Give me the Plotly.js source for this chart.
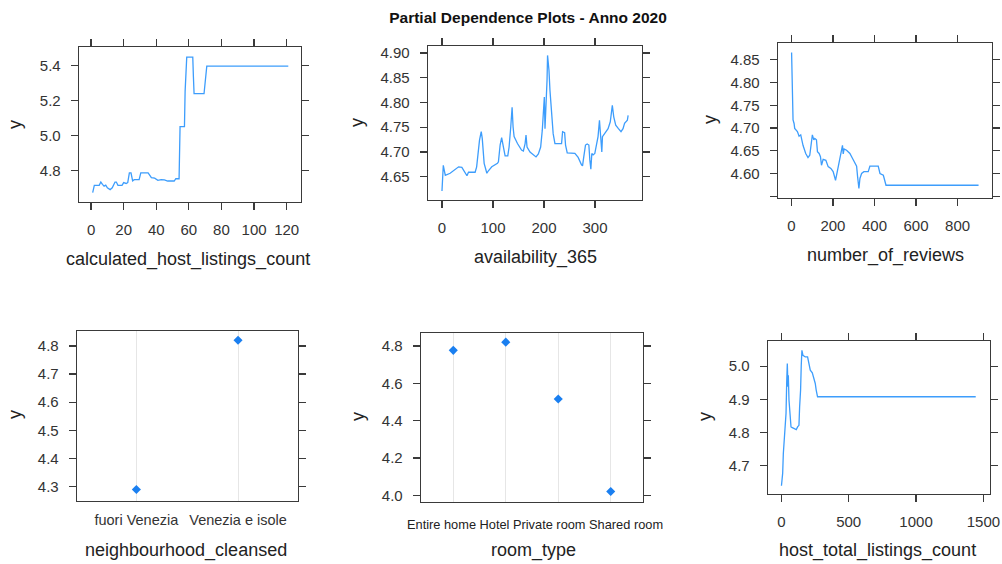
<!DOCTYPE html>
<html>
<head>
<meta charset="utf-8">
<script src="https://cdn.plot.ly/plotly-3.0.1.min.js"></script>
<style>
  html, body { margin: 0; padding: 0; background: #fff; }
  #chart { width: 1002px; height: 564px; }
</style>
</head>
<body>
<div id="chart"></div>
<script>
// Partial dependence of the predicted rating (y) on six listing features.

// calculated_host_listings_count
const calcHostX = [1, 2, 5, 6, 7, 8, 9, 10, 11.7, 13, 14.7, 15.5, 16.5, 19, 20, 21.5, 22.5, 23.5, 24.5, 25.5, 26.5, 29.5, 30.5, 35, 37, 39, 41, 43, 45, 47, 51, 52, 54, 54.2, 54.6, 57.3, 57.7, 58.7, 62.4, 62.8, 63.2, 69.3, 70, 71, 121];
const calcHostY = [4.672, 4.714, 4.714, 4.733, 4.72, 4.71, 4.715, 4.70, 4.69, 4.70, 4.733, 4.733, 4.714, 4.714, 4.73, 4.725, 4.73, 4.785, 4.785, 4.74, 4.747, 4.747, 4.785, 4.785, 4.758, 4.755, 4.743, 4.747, 4.745, 4.739, 4.739, 4.752, 4.752, 4.90, 5.05, 5.05, 5.25, 5.447, 5.447, 5.333, 5.238, 5.238, 5.318, 5.396, 5.396];

// availability_365
const availX = [0, 1, 2.6, 4.5, 6.5, 16, 32.6, 39, 45.6, 49, 52, 65, 68, 73.6, 77, 79, 82.7, 88, 91, 97.7, 108.8, 110.7, 114, 117, 120.5, 123.8, 129, 131.6, 134.9, 137.5, 139.4, 141.4, 148, 156, 159.6, 163, 164.8, 166.8, 172.6, 184.4, 189, 193.5, 196.7, 198.7, 199.7, 200.7, 202, 204, 206, 207, 208.5, 209.8, 211.7, 215, 218, 221.5, 234.5, 236.5, 240.5, 242.3, 245.6, 260.6, 267, 273.6, 275.6, 278, 281.4, 284.7, 288, 289.9, 291.9, 293.8, 296.4, 299.7, 303, 306, 308.8, 310.7, 313.4, 314.7, 319, 325.7, 330, 334, 336.8, 340.7, 346, 351, 355, 358, 363.5, 365];
const availY = [4.621, 4.647, 4.673, 4.663, 4.653, 4.657, 4.670, 4.669, 4.657, 4.652, 4.659, 4.659, 4.670, 4.724, 4.741, 4.727, 4.677, 4.657, 4.662, 4.670, 4.677, 4.680, 4.714, 4.729, 4.71, 4.692, 4.692, 4.710, 4.751, 4.790, 4.751, 4.731, 4.717, 4.704, 4.702, 4.717, 4.734, 4.710, 4.700, 4.690, 4.696, 4.71, 4.744, 4.788, 4.778, 4.811, 4.747, 4.784, 4.845, 4.895, 4.882, 4.865, 4.825, 4.774, 4.737, 4.717, 4.717, 4.741, 4.739, 4.714, 4.698, 4.697, 4.689, 4.674, 4.672, 4.69, 4.714, 4.716, 4.714, 4.684, 4.665, 4.697, 4.694, 4.697, 4.714, 4.731, 4.764, 4.744, 4.700, 4.731, 4.737, 4.747, 4.761, 4.794, 4.771, 4.754, 4.747, 4.741, 4.747, 4.758, 4.764, 4.774];

// number_of_reviews
const reviewsX = [1, 3, 5, 8, 13, 16, 29, 37, 45, 50, 56, 69, 80, 88.5, 96.6, 101, 108, 112.7, 120.7, 125.5, 133.6, 140, 145, 153, 166, 177, 190, 201, 212.5, 222, 233, 246, 249.5, 254, 265.6, 281.7, 294.5, 306, 314, 318.7, 325, 330, 338, 349, 370, 378, 418, 426.5, 442.6, 455.5, 901];
const reviewsY = [4.866, 4.799, 4.795, 4.718, 4.71, 4.699, 4.692, 4.682, 4.685, 4.674, 4.662, 4.644, 4.635, 4.640, 4.666, 4.685, 4.674, 4.677, 4.674, 4.648, 4.644, 4.637, 4.618, 4.631, 4.629, 4.615, 4.611, 4.604, 4.585, 4.607, 4.633, 4.662, 4.643, 4.654, 4.651, 4.644, 4.633, 4.622, 4.616, 4.593, 4.567, 4.589, 4.600, 4.604, 4.604, 4.616, 4.616, 4.600, 4.596, 4.574, 4.574];

// neighbourhood_cleansed
const neighbourhoods = ['fuori Venezia', 'Venezia e isole'];
const neighbourhoodY = [4.29, 4.82];

// room_type
const roomTypes = ['Entire home', 'Hotel', 'Private room', 'Shared room'];
const roomTypeY = [4.777, 4.821, 4.516, 4.020];

// host_total_listings_count
const hostTotalX = [1, 10, 15, 22, 30, 35, 40, 44.5, 49.4, 52, 57, 64, 72, 81.5, 104, 111, 121, 131, 136, 143, 148, 153, 160.6, 178, 195, 203, 215, 230, 240, 252, 259, 269, 1443];
const hostTotalY = [4.640, 4.677, 4.737, 4.777, 4.807, 4.858, 4.952, 5.008, 4.938, 4.973, 4.898, 4.847, 4.817, 4.815, 4.812, 4.809, 4.817, 4.822, 4.878, 4.928, 5.003, 5.048, 5.033, 5.028, 5.028, 5.013, 4.988, 4.980, 4.968, 4.948, 4.928, 4.908, 4.908];

// Tick values for each panel
const calcHostTicksX = [0, 20, 40, 60, 80, 100, 120];
const calcHostTicksY = [4.8, 5.0, 5.2, 5.4];
const availTicksX = [0, 100, 200, 300];
const availTicksY = [4.65, 4.70, 4.75, 4.80, 4.85, 4.90];
const reviewsTicksX = [0, 200, 400, 600, 800];
const reviewsTicksY = [4.55, 4.60, 4.65, 4.70, 4.75, 4.80, 4.85];
const neighbourhoodTicksY = [4.3, 4.4, 4.5, 4.6, 4.7, 4.8];
const roomTypeTicksY = [4.0, 4.2, 4.4, 4.6, 4.8];
const hostTotalTicksX = [0, 500, 1000, 1500];
const hostTotalTicksY = [4.7, 4.8, 4.9, 5.0];

const W = 1002, H = 564;
const LINE = '#3d9dfc';
const POINT = '#1a7ff0';
const AXIS = '#3a3a3a';
const TICKFONT = { family: 'Liberation Sans, Arial, sans-serif', size: 15, color: '#333' };
const TITLEFONT = { family: 'Liberation Sans, Arial, sans-serif', size: 18, color: '#222' };

// pixel box -> paper domain
const dx = (a, b) => [a / W, b / W];
const dy = (top, bottom) => [1 - bottom / H, 1 - top / H];

function fmt(v, d) { return v.toFixed(d); }

function numAxis(domain, range, ticks, anchor, decimals, hideLabels) {
  return {
    domain, range, anchor,
    tickmode: 'array', tickvals: ticks,
    ticktext: ticks.map(v => (hideLabels && hideLabels.includes(v)) ? '' : (decimals == null ? String(v) : fmt(v, decimals))),
    ticks: 'outside', ticklen: 7, tickwidth: 1.2, tickcolor: AXIS,
    showline: true, linecolor: AXIS, linewidth: 1.3, mirror: 'allticks',
    showgrid: false, zeroline: false, fixedrange: true,
    tickfont: TICKFONT, ticklabelstandoff: 7
  };
}

function catAxis(domain, range, anchor, showLabels) {
  return {
    domain, range, anchor, type: 'category',
    ticks: '', showticklabels: showLabels,
    showline: true, linecolor: AXIS, linewidth: 1.3, mirror: true,
    showgrid: true, gridcolor: '#e6e6e6', gridwidth: 1,
    zeroline: false, fixedrange: true,
    tickfont: { family: 'Liberation Sans, Arial, sans-serif', size: 14.5, color: '#333' },
    ticklabelstandoff: 5
  };
}

const lineStyle = { color: LINE, width: 1.3 };
const markerStyle = { color: POINT, size: 7, symbol: 'diamond' };

const data = [
  { x: calcHostX, y: calcHostY, xaxis: 'x', yaxis: 'y', mode: 'lines', line: lineStyle, hoverinfo: 'x+y' },
  { x: availX, y: availY, xaxis: 'x2', yaxis: 'y2', mode: 'lines', line: lineStyle, hoverinfo: 'x+y' },
  { x: reviewsX, y: reviewsY, xaxis: 'x3', yaxis: 'y3', mode: 'lines', line: lineStyle, hoverinfo: 'x+y' },
  { x: neighbourhoods, y: neighbourhoodY, xaxis: 'x4', yaxis: 'y4', mode: 'markers', marker: markerStyle, hoverinfo: 'x+y' },
  { x: roomTypes, y: roomTypeY, xaxis: 'x5', yaxis: 'y5', mode: 'markers', marker: markerStyle, hoverinfo: 'x+y' },
  { x: hostTotalX, y: hostTotalY, xaxis: 'x6', yaxis: 'y6', mode: 'lines', line: lineStyle, hoverinfo: 'x+y' }
];

function axisTitle(text, px, py, rotate) {
  return {
    text, xref: 'paper', yref: 'paper', x: px / W, y: 1 - py / H,
    xanchor: 'center', yanchor: 'middle', showarrow: false,
    textangle: rotate ? -90 : 0, font: TITLEFONT
  };
}

const layout = {
  width: W, height: H,
  margin: { l: 0, r: 0, t: 0, b: 0 },
  paper_bgcolor: '#fff', plot_bgcolor: '#fff',
  showlegend: false,
  title: {
    text: '<b>Partial Dependence Plots - Anno 2020</b>',
    x: 528 / W, y: 1 - 18 / H, xanchor: 'center', yanchor: 'middle',
    font: { family: 'Liberation Sans, Arial, sans-serif', size: 15.5, color: '#111' }
  },
  xaxis:  numAxis(dx(79, 301), [-7.4, 128.8], calcHostTicksX, 'y', null),
  yaxis:  numAxis(dy(47, 202), [4.619, 5.505], calcHostTicksY, 'x', 1),
  xaxis2: numAxis(dx(428, 642), [-27.4, 392.2], availTicksX, 'y2', null),
  yaxis2: numAxis(dy(46, 200), [4.603, 4.914], availTicksY, 'x2', 2),
  xaxis3: numAxis(dx(778, 992), [-64.4, 965.7], reviewsTicksX, 'y3', null),
  yaxis3: numAxis(dy(43, 198), [4.546, 4.887], reviewsTicksY, 'x3', 2, [4.55]),
  xaxis4: catAxis(dx(77, 298), [-0.584, 1.59], 'y4', true),
  yaxis4: numAxis(dy(331, 501), [4.249, 4.853], neighbourhoodTicksY, 'x4', 1),
  xaxis5: catAxis(dx(421, 643), [-0.615, 3.615], 'y5', false),
  yaxis5: numAxis(dy(333, 502), [3.964, 4.870], roomTypeTicksY, 'x5', 1),
  xaxis6: numAxis(dx(768, 990), [-98.8, 1549], hostTotalTicksX, 'y6', null),
  yaxis6: numAxis(dy(341, 494), [4.615, 5.076], hostTotalTicksY, 'x6', 1),
  annotations: [
    axisTitle('calculated_host_listings_count', 188, 259),
    axisTitle('y', 15, 125, true),
    axisTitle('availability_365', 535, 258),
    axisTitle('y', 357, 123, true),
    axisTitle('number_of_reviews', 885, 255),
    axisTitle('y', 710, 120, true),
    axisTitle('neighbourhood_cleansed', 186, 550),
    axisTitle('y', 15, 415, true),
    axisTitle('room_type', 533, 550),
    axisTitle('y', 358, 417, true),
    axisTitle('host_total_listings_count', 877, 550),
    axisTitle('y', 705, 417, true),
    {
      text: roomTypes.join(' '), xref: 'paper', yref: 'paper',
      x: 534.5 / W, y: 1 - 524 / H, xanchor: 'center', yanchor: 'middle',
      showarrow: false,
      font: { family: 'Liberation Sans, Arial, sans-serif', size: 12.8, color: '#222' }
    }
  ]
};

Plotly.newPlot('chart', data, layout, { displayModeBar: false, staticPlot: true });
</script>
</body>
</html>
